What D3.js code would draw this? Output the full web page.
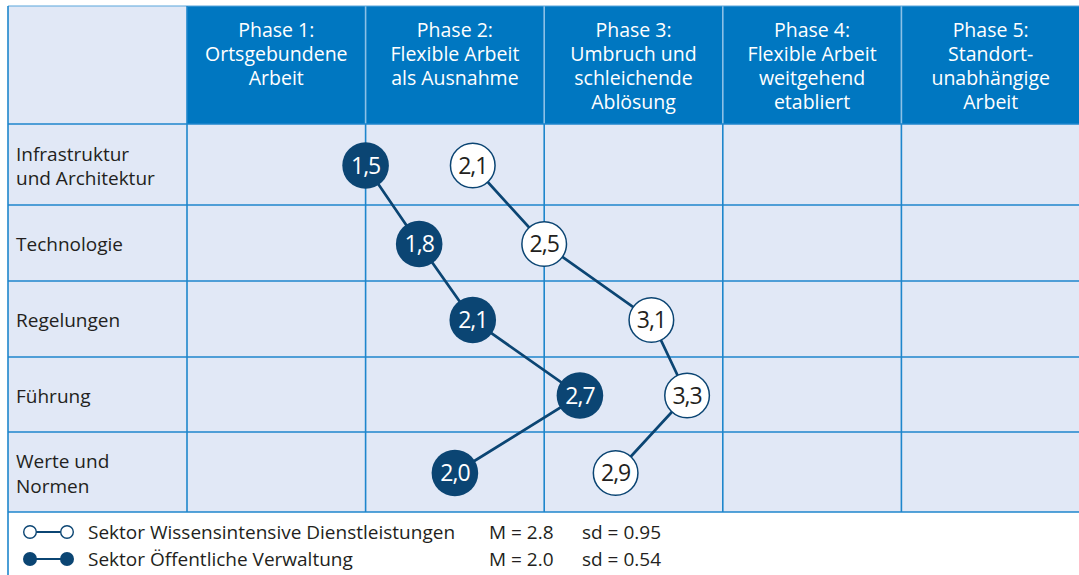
<!DOCTYPE html>
<html><head><meta charset="utf-8">
<script src="https://cdn.jsdelivr.net/npm/d3@7"></script>
<style>body{margin:0;background:#fff}svg{display:block}</style>
</head><body><svg id="c" width="1079" height="575"></svg>
<script>
const phases = [
  ["Phase 1:", "Ortsgebundene", "Arbeit"],
  ["Phase 2:", "Flexible Arbeit", "als Ausnahme"],
  ["Phase 3:", "Umbruch und", "schleichende", "Ablösung"],
  ["Phase 4:", "Flexible Arbeit", "weitgehend", "etabliert"],
  ["Phase 5:", "Standort-", "unabhängige", "Arbeit"]
];
const categories = ["Infrastruktur und Architektur", "Technologie", "Regelungen", "Führung", "Werte und Normen"];
const categoryLines = [["Infrastruktur", "und Architektur"], ["Technologie"], ["Regelungen"], ["Führung"], ["Werte und", "Normen"]];
const wissensValues = [2.1, 2.5, 3.1, 3.3, 2.9];
const verwaltungValues = [1.5, 1.8, 2.1, 2.7, 2.0];
const legendNames = ["Sektor Wissensintensive Dienstleistungen", "Sektor Öffentliche Verwaltung"];
const legendM = ["M = 2.8", "M = 2.0"];
const legendSd = ["sd = 0.95", "sd = 0.54"];

(function () {
const FONT = "'Open Sans', 'Noto Sans', sans-serif";
const svg = d3.select("#c");
const leftX = 8, labelRight = 187, rightX = 1079 + 2;
const topY = 6, headBottom = 124;
const rowTops = [124, 205, 281, 357, 432, 512];
const gridColor = "#1e86cc", headBlue = "#0077c1", bg = "#e1e8f6", dark = "#0b4573", textCol = "#231f20";

const x = d3.scaleLinear().domain([0.5, 5.5]).range([labelRight, labelRight + 5 * 178.6]);
const yTop = d3.scaleOrdinal().domain(categories).range(rowTops.slice(0, 5));
const yBot = d3.scaleOrdinal().domain(categories).range(rowTops.slice(1));
const yMid = c => (yTop(c) + yBot(c)) / 2 + 1;

svg.append("rect").attr("x", leftX).attr("y", topY).attr("width", rightX - leftX).attr("height", rowTops[5] - topY).attr("fill", bg);
svg.append("rect").attr("x", labelRight).attr("y", topY).attr("width", rightX - labelRight).attr("height", headBottom - topY).attr("fill", headBlue);

const colEdges = d3.range(0, 5).map(i => x(i + 0.5));
colEdges.forEach(cx => {
  svg.append("line").attr("x1", cx).attr("x2", cx).attr("y1", headBottom).attr("y2", rowTops[5]).attr("stroke", gridColor).attr("stroke-width", 1.6);
});
colEdges.slice(1).forEach(cx => {
  svg.append("line").attr("x1", cx).attr("x2", cx).attr("y1", topY).attr("y2", headBottom).attr("stroke", "#8cc0e6").attr("stroke-width", 1.6);
});
rowTops.forEach(ry => {
  svg.append("line").attr("x1", leftX).attr("x2", rightX).attr("y1", ry).attr("y2", ry).attr("stroke", gridColor).attr("stroke-width", 1.6);
});
svg.append("line").attr("x1", leftX).attr("x2", rightX).attr("y1", topY).attr("y2", topY).attr("stroke", "#5aa6dc").attr("stroke-width", 1.2);
svg.append("line").attr("x1", leftX).attr("x2", leftX).attr("y1", topY).attr("y2", 575).attr("stroke", gridColor).attr("stroke-width", 1.6);
svg.append("line").attr("x1", labelRight).attr("x2", labelRight).attr("y1", topY).attr("y2", headBottom).attr("stroke", gridColor).attr("stroke-width", 1.6);

phases.forEach((lines, i) => {
  const t = svg.append("text").attr("x", x(i + 1)).attr("y", 37).attr("text-anchor", "middle")
    .attr("fill", "#fff").style("font-family", FONT).style("font-size", "19.5px");
  lines.forEach((l, j) => t.append("tspan").attr("x", x(i + 1)).attr("dy", j === 0 ? 0 : 24).text(l));
});

categories.forEach((c, i) => {
  const lines = categoryLines[i];
  const y0 = yMid(c) + 7 - (lines.length - 1) * 12;
  const t = svg.append("text").attr("x", 16).attr("y", y0).attr("fill", textCol)
    .style("font-family", FONT).style("font-size", "19px");
  lines.forEach((l, j) => t.append("tspan").attr("x", 16).attr("dy", j === 0 ? 0 : 24.5).text(l));
});

const line = d3.line().x(d => x(d.v)).y(d => yMid(d.c));
const wData = categories.map((c, i) => ({c, v: wissensValues[i]}));
const vData = categories.map((c, i) => ({c, v: verwaltungValues[i]}));
[wData, vData].forEach(data => {
  svg.append("path").datum(data).attr("d", line).attr("fill", "none").attr("stroke", dark).attr("stroke-width", 2.7);
});
const fmt = v => v.toFixed(1).replace(".", ",");
function drawPoints(data, filled) {
  const g = svg.append("g").selectAll("g").data(data).join("g")
    .attr("transform", d => `translate(${x(d.v)},${yMid(d.c)})`);
  g.append("circle").attr("r", filled ? 23.3 : 22.3).attr("fill", filled ? dark : "#fff")
    .attr("stroke", dark).attr("stroke-width", filled ? 0 : 1.5);
  g.append("text").attr("text-anchor", "middle").attr("dy", "0.36em")
    .attr("fill", filled ? "#fff" : textCol).style("font-family", FONT).style("font-size", "23px")
    .style("letter-spacing", "-1px").text(d => fmt(d.v));
}
drawPoints(wData, false);
drawPoints(vData, true);

[0, 1].forEach(i => {
  const ly = i === 0 ? 532 : 559;
  const filled = i === 1;
  svg.append("line").attr("x1", 30).attr("x2", 67).attr("y1", ly).attr("y2", ly).attr("stroke", dark).attr("stroke-width", 2.2);
  [30, 67].forEach(cx => svg.append("circle").attr("cx", cx).attr("cy", ly).attr("r", filled ? 7 : 6.3)
    .attr("fill", filled ? dark : "#fff").attr("stroke", dark).attr("stroke-width", filled ? 0 : 1.4));
  const ty = ly + 7;
  svg.append("text").attr("x", 88).attr("y", ty).attr("fill", textCol).style("font-family", FONT).style("font-size", "19px").text(legendNames[i]);
  svg.append("text").attr("x", 489).attr("y", ty).attr("fill", textCol).style("font-family", FONT).style("font-size", "19px").text(legendM[i]);
  svg.append("text").attr("x", 582).attr("y", ty).attr("fill", textCol).style("font-family", FONT).style("font-size", "19px").text(legendSd[i]);
});
})();
</script></body></html>
